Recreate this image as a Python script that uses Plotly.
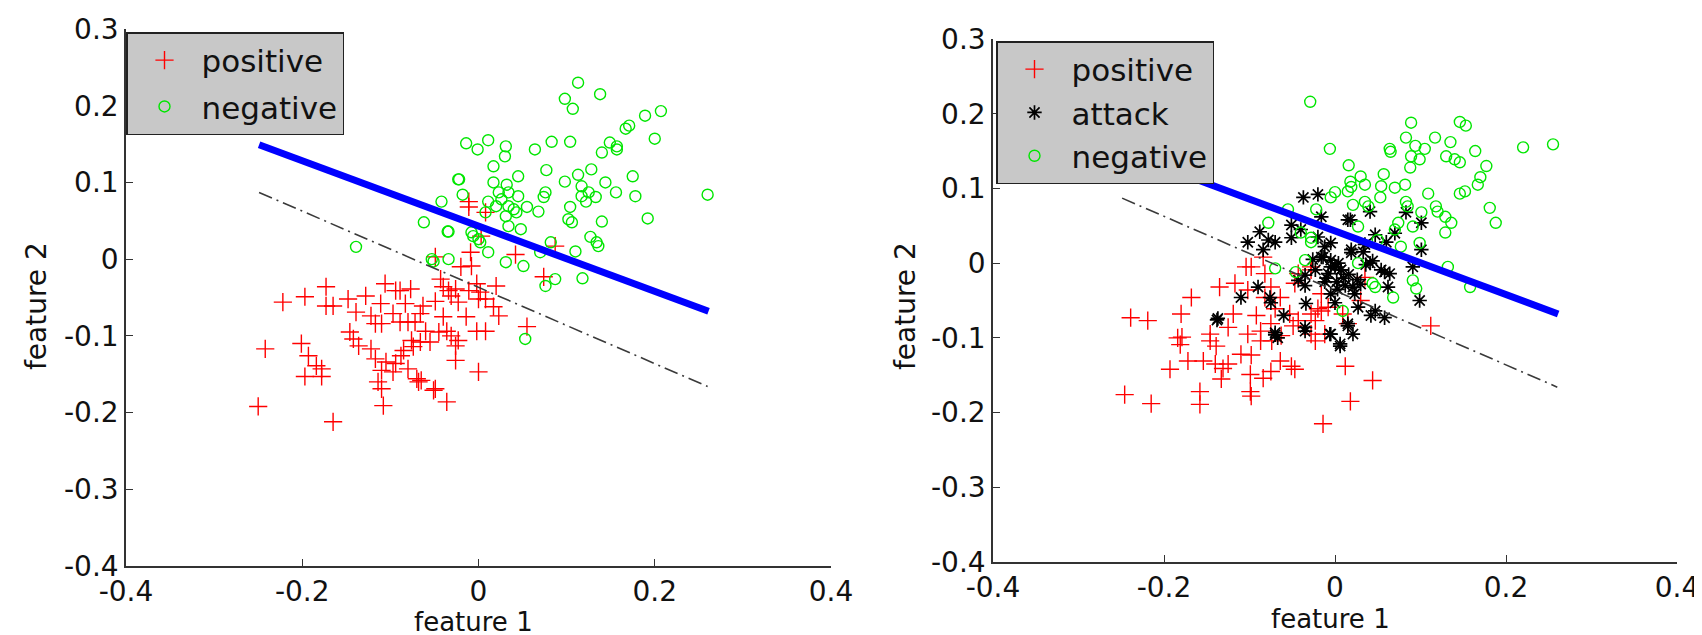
import plotly.graph_objects as go

# ---------------- data ----------------
left_pos_x = [-0.011, -0.011, 0.008, 0.003, -0.049, -0.009, -0.020, -0.008, -0.043, -0.040, -0.034, -0.026, -0.011, -0.002,
              0.008, 0.017, -0.023, -0.031, 0.000, -0.106, -0.094, -0.089, -0.077, -0.173, -0.222, -0.197, -0.173, -0.165,
              -0.148, -0.128, -0.139, -0.111, -0.083, -0.063, -0.049, -0.122, -0.117, -0.110, -0.097, -0.089, -0.080, -0.072,
              -0.066, -0.146, -0.142, -0.136, -0.201, -0.242, -0.193, -0.184, -0.178, -0.197, -0.178, -0.122, -0.117, -0.105,
              -0.094, -0.088, -0.085, -0.076, -0.074, -0.066, -0.055, -0.045, -0.036, -0.031, -0.026, -0.023, -0.002, 0.008,
              -0.026, -0.110, -0.097, -0.080, -0.070, -0.065, -0.114, -0.110, -0.108, -0.049, -0.036, 0.000, -0.250, -0.165,
              0.042, 0.087, 0.074, 0.055, 0.020, 0.023, 0.002, -0.068, -0.051, -0.014, -0.060, -0.040]
left_pos_y = [0.075, 0.068, 0.061, 0.030, 0.003, 0.009, -0.010, -0.009, -0.026, -0.036, -0.041, -0.039, -0.041, -0.032,
              -0.052, -0.062, -0.056, -0.048, -0.052, -0.032, -0.041, -0.041, -0.039, -0.036, -0.056, -0.049, -0.061, -0.061,
              -0.052, -0.048, -0.069, -0.058, -0.058, -0.061, -0.055, -0.074, -0.084, -0.084, -0.071, -0.082, -0.082, -0.082,
              -0.071, -0.095, -0.104, -0.113, -0.110, -0.117, -0.126, -0.139, -0.143, -0.153, -0.153, -0.117, -0.130, -0.134,
              -0.136, -0.126, -0.119, -0.106, -0.114, -0.108, -0.108, -0.095, -0.094, -0.100, -0.113, -0.106, -0.094, -0.094,
              -0.132, -0.145, -0.147, -0.143, -0.156, -0.158, -0.160, -0.169, -0.191, -0.169, -0.186, -0.147, -0.192, -0.212,
              0.006, 0.017, -0.023, -0.088, -0.035, -0.074, -0.043, -0.160, -0.171, -0.075, -0.094, -0.075]

left_neg_x = [0.113, 0.138, 0.098, 0.107, 0.207, 0.189, 0.171, 0.167, 0.200, 0.149, 0.157, 0.157, 0.140, -0.014, -0.001,
              0.011, 0.031, 0.030, 0.064, 0.083, 0.104, 0.017, 0.077, -0.022, 0.045, 0.113, 0.128, 0.175, 0.098, 0.017,
              0.032, 0.144, 0.117, -0.018, -0.042, 0.023, 0.034, 0.045, 0.076, 0.074, 0.156, 0.178, 0.125, 0.117, 0.133,
              0.122, 0.011, 0.020, 0.034, 0.055, 0.043, 0.068, 0.008, 0.031, 0.104, 0.102, 0.106, 0.140, 0.192, 0.260,
              -0.062, -0.034, 0.034, 0.048, -0.006, 0.002, 0.127, 0.134, 0.136, 0.011, 0.082, 0.070, 0.110, -0.034, -0.051,
              0.031, 0.051, 0.087, 0.076, 0.118, 0.053, -0.139, -0.035, -0.053, -0.023, -0.008, 0.000, 0.026, 0.040]
left_neg_y = [0.230, 0.215, 0.209, 0.196, 0.193, 0.187, 0.174, 0.170, 0.157, 0.152, 0.147, 0.143, 0.139, 0.151, 0.143,
              0.155, 0.147, 0.134, 0.143, 0.153, 0.153, 0.121, 0.116, 0.104, 0.108, 0.110, 0.117, 0.108, 0.101, 0.100,
              0.097, 0.100, 0.095, 0.084, 0.075, 0.087, 0.087, 0.082, 0.087, 0.081, 0.087, 0.082, 0.087, 0.082, 0.081,
              0.075, 0.075, 0.069, 0.069, 0.068, 0.061, 0.062, 0.061, 0.056, 0.068, 0.052, 0.048, 0.049, 0.053, 0.084,
              0.048, 0.036, 0.043, 0.039, 0.030, 0.022, 0.029, 0.022, 0.017, 0.009, 0.022, 0.009, 0.010, 0.000, -0.003,
              -0.004, -0.009, -0.026, -0.035, -0.025, -0.104, 0.016, 0.036, 0.000, 0.104, 0.035, 0.026, 0.078, 0.065]

right_pos_x = [-0.239, -0.219, -0.180, -0.168, -0.135, -0.104, -0.098, -0.084, -0.082, -0.075, -0.102, -0.082, -0.064,
               -0.070, -0.053, -0.119, -0.125, -0.146, -0.184, -0.181, -0.139, -0.102, -0.087, -0.075, -0.049, -0.043,
               -0.023, -0.028, -0.023, -0.012, -0.028, -0.020, -0.008, -0.016, -0.047, -0.043, -0.028, 0.009, 0.015,
               -0.110, -0.172, -0.193, -0.154, -0.140, -0.131, -0.125, -0.133, -0.099, -0.084, -0.075, -0.064, -0.051,
               -0.047, 0.012, -0.246, -0.215, -0.158, -0.158, -0.099, -0.098, 0.018, -0.014, 0.112, 0.044, -0.016,
               -0.028, 0.030, 0.035, -0.063, -0.074, -0.092, -0.146, -0.179, -0.098, -0.087, -0.117]
right_pos_y = [-0.073, -0.077, -0.068, -0.046, -0.032, -0.005, -0.005, 0.008, -0.014, -0.032, -0.036, -0.046, -0.046,
               -0.061, -0.068, -0.068, -0.086, -0.095, -0.100, -0.109, -0.111, -0.095, -0.104, -0.081, -0.084, -0.077,
               -0.077, -0.095, -0.104, -0.095, -0.068, -0.061, -0.059, -0.041, -0.027, -0.014, -0.005, -0.068, -0.081,
               -0.122, -0.131, -0.142, -0.131, -0.135, -0.141, -0.135, -0.155, -0.149, -0.154, -0.145, -0.131, -0.138,
               -0.142, -0.138, -0.176, -0.188, -0.172, -0.189, -0.172, -0.178, -0.185, -0.215, -0.084, -0.157, -0.064,
               -0.009, -0.050, -0.019, -0.097, -0.104, -0.070, -0.104, -0.099, -0.123, -0.091, -0.027]

right_att_x = [-0.037, -0.020, 0.018, -0.051, -0.040, -0.051, -0.088, -0.078, -0.070, -0.102, -0.084, -0.020, -0.012,
               -0.016, -0.005, 0.000, 0.007, -0.008, -0.023, -0.035, -0.043, -0.035, 0.019, 0.021, -0.005, -0.034,
               -0.090, -0.110, -0.076, -0.075, -0.137, -0.070, -0.067, -0.035, -0.005, 0.006, 0.015, -0.016, 0.015,
               0.041, 0.083, 0.101, 0.101, 0.047, 0.060, -0.005, 0.019, 0.033, 0.004, 0.007, -0.005, -0.014, 0.041,
               0.054, 0.064, 0.062, 0.091, 0.099, 0.023, 0.000, 0.027, 0.047, 0.058, 0.015, -0.006, 0.006, -0.035,
               0.042, 0.058, 0.021, -0.070, -0.138, 0.010, 0.002, 0.012, 0.026, -0.010, 0.030, 0.036, 0.044, 0.003,
               -0.026, -0.012, 0.016, 0.070, -0.060, 0.035]
right_att_y = [0.088, 0.092, 0.058, 0.051, 0.045, 0.034, 0.042, 0.031, 0.028, 0.028, 0.018, 0.035, 0.022, 0.008, 0.004,
               -0.005, -0.009, -0.014, -0.009, -0.016, -0.023, -0.030, 0.014, -0.032, -0.041, -0.054, -0.032, -0.046,
               -0.046, -0.053, -0.074, -0.093, -0.100, -0.091, -0.095, -0.111, -0.084, 0.062, 0.058, 0.069, 0.068,
               0.054, 0.018, 0.038, 0.028, 0.027, 0.018, 0.015, 0.000, -0.009, -0.005, 0.008, 0.000, -0.009, -0.014,
               -0.032, -0.005, -0.050, -0.041, -0.053, -0.059, -0.064, -0.073, -0.081, -0.095, -0.108, -0.086, -0.070,
               -0.012, -0.095, -0.096, -0.076, -0.020, -0.025, -0.030, -0.022, -0.020, -0.028, -0.002, 0.003, -0.035,
               0.005, -0.025, -0.015, 0.040, -0.070, 0.025]

right_neg_x = [-0.029, -0.006, 0.089, 0.146, 0.153, 0.117, 0.135, 0.083, 0.094, 0.105, 0.064, 0.065, 0.164, 0.220, 0.255,
               0.130, 0.140, 0.146, 0.089, 0.099, 0.177, 0.016, 0.088, 0.030, 0.057, 0.170, 0.018, 0.035, 0.054, 0.070,
               0.082, 0.167, 0.000, 0.015, 0.053, 0.109, 0.146, 0.152, 0.021, 0.035, 0.039, 0.083, 0.085, 0.118, 0.120,
               0.181, 0.188, -0.022, 0.074, 0.070, 0.091, 0.101, 0.129, 0.136, 0.129, 0.027, 0.050, 0.077, 0.099, -0.040,
               -0.028, -0.035, 0.027, 0.132, 0.091, 0.095, 0.158, 0.068, 0.044, 0.047, 0.009, -0.078, -0.055, -0.070,
               -0.046, -0.028, -0.005, 0.019]
right_neg_y = [0.216, 0.153, 0.188, 0.189, 0.184, 0.168, 0.162, 0.168, 0.157, 0.153, 0.153, 0.149, 0.150, 0.155, 0.159,
               0.143, 0.139, 0.135, 0.143, 0.139, 0.130, 0.131, 0.128, 0.116, 0.119, 0.115, 0.109, 0.105, 0.103, 0.101,
               0.105, 0.105, 0.095, 0.096, 0.088, 0.093, 0.093, 0.096, 0.078, 0.082, 0.076, 0.082, 0.076, 0.076, 0.069,
               0.074, 0.054, 0.072, 0.054, 0.045, 0.049, 0.068, 0.062, 0.054, 0.041, 0.049, 0.031, 0.022, 0.027, 0.041,
               0.028, 0.004, 0.000, -0.005, -0.023, -0.034, -0.032, -0.046, -0.027, -0.032, -0.064, 0.054, 0.072, -0.007,
               -0.012, 0.034, 0.088, 0.102]

boundary_x = [-0.249, 0.261]
boundary_y = [0.149, -0.068]
margin_x = [-0.249, 0.260]
margin_y = [0.087, -0.166]

x_ticks = [-0.4, -0.2, 0, 0.2, 0.4]
y_ticks = [-0.4, -0.3, -0.2, -0.1, 0, 0.1, 0.2, 0.3]
x_title = "feature 1"
y_title = "feature 2"

# ---------------- styling ----------------
FONT = "DejaVu Sans"
RED = "#ff0000"
GREEN = "#00e600"
BLUE = "#0000ff"
W, H = 1702, 635

fig = go.Figure()


def scatter(x, y, name, symbol, color, size, xa, ya, leg, group, lw=1.4):
    fig.add_trace(go.Scatter(
        x=x, y=y, mode="markers", name=name, xaxis=xa, yaxis=ya, legend=leg,
        legendgroup=group,
        marker=dict(symbol=symbol, size=size, color=color,
                    line=dict(color=color, width=lw)),
    ))


def lines(xa, ya):
    fig.add_trace(go.Scatter(x=margin_x, y=margin_y, mode="lines", xaxis=xa, yaxis=ya,
                             showlegend=False,
                             line=dict(color="#3a3a3a", width=1.6, dash="14px,5px,2px,5px")))
    fig.add_trace(go.Scatter(x=boundary_x, y=boundary_y, mode="lines", xaxis=xa, yaxis=ya,
                             showlegend=False, line=dict(color=BLUE, width=7)))


# left panel
scatter(left_pos_x, left_pos_y, "positive", "cross-thin-open", RED, 13, "x", "y", "legend", "lp")
scatter(left_neg_x, left_neg_y, "negative", "circle-open", GREEN, 11, "x", "y", "legend", "ln")
lines("x", "y")

# right panel
scatter(right_pos_x, right_pos_y, "positive", "cross-thin-open", RED, 13, "x2", "y2", "legend2", "rp")
scatter(right_att_x, right_att_y, "attack", "asterisk-open", "#000000", 12, "x2", "y2", "legend2", "ra", lw=1.7)
scatter(right_neg_x, right_neg_y, "negative", "circle-open", GREEN, 11, "x2", "y2", "legend2", "rn")
lines("x2", "y2")

axis_common = dict(
    showline=True, linecolor="#333333", linewidth=1.5, mirror=False,
    ticks="inside", ticklen=7, tickwidth=1.3, tickcolor="#333333",
    showgrid=False, zeroline=False, automargin=False,
    tickfont=dict(family=FONT, size=28, color="#111111"),
)

xa = dict(axis_common, range=[-0.4, 0.4], tickvals=x_ticks, ticktext=[f"{v:g}" for v in x_ticks])
ya = dict(axis_common, range=[-0.4, 0.3], tickvals=y_ticks, ticktext=[f"{v:g}" for v in y_ticks])

title_font = dict(family=FONT, size=28, color="#111111")
xtitle_font = dict(family=FONT, size=26, color="#111111")

legend_common = dict(
    bgcolor="#c8c8c8", bordercolor="#222222", borderwidth=1.5,
    font=dict(family=FONT, size=31, color="#111111"),
    xanchor="left", yanchor="top", itemwidth=64, indentation=0,
    itemclick=False,
)

# axis titles as annotations (pixel positions converted to paper fractions)
annotations = [
    dict(text=x_title, x=465 / W, y=1 - 614 / H, xref="paper", yref="paper", borderpad=0,
         xanchor="center", yanchor="middle", showarrow=False, font=xtitle_font),
    dict(text=x_title, x=1322 / W, y=1 - 611 / H, xref="paper", yref="paper", borderpad=0,
         xanchor="center", yanchor="middle", showarrow=False, font=xtitle_font),
    dict(text=y_title, x=28 / W, y=1 - 298 / H, xref="paper", yref="paper", textangle=-90,
         borderpad=0, xanchor="center", yanchor="middle", showarrow=False, font=title_font),
    dict(text=y_title, x=897 / W, y=1 - 298 / H, xref="paper", yref="paper", textangle=-90,
         borderpad=0, xanchor="center", yanchor="middle", showarrow=False, font=title_font),
]

fig.update_layout(
    width=W, height=H,
    margin=dict(l=0, r=0, t=0, b=0, autoexpand=False),
    paper_bgcolor="white", plot_bgcolor="white",
    font=dict(family=FONT),
    xaxis=dict(xa, domain=[118 / W, 823 / W], anchor="y"),
    yaxis=dict(ya, domain=[1 - 558 / H, 1 - 21 / H], anchor="x"),
    xaxis2=dict(xa, domain=[985 / W, 1669 / W], anchor="y2"),
    yaxis2=dict(ya, domain=[1 - 554 / H, 1 - 31 / H], anchor="x2"),
    legend=dict(legend_common, x=118 / W, y=1 - 24 / H, tracegroupgap=3),
    legend2=dict(legend_common, x=988 / W, y=1 - 33 / H, tracegroupgap=0),
    annotations=annotations,
)

fig.write_html("out.html")
